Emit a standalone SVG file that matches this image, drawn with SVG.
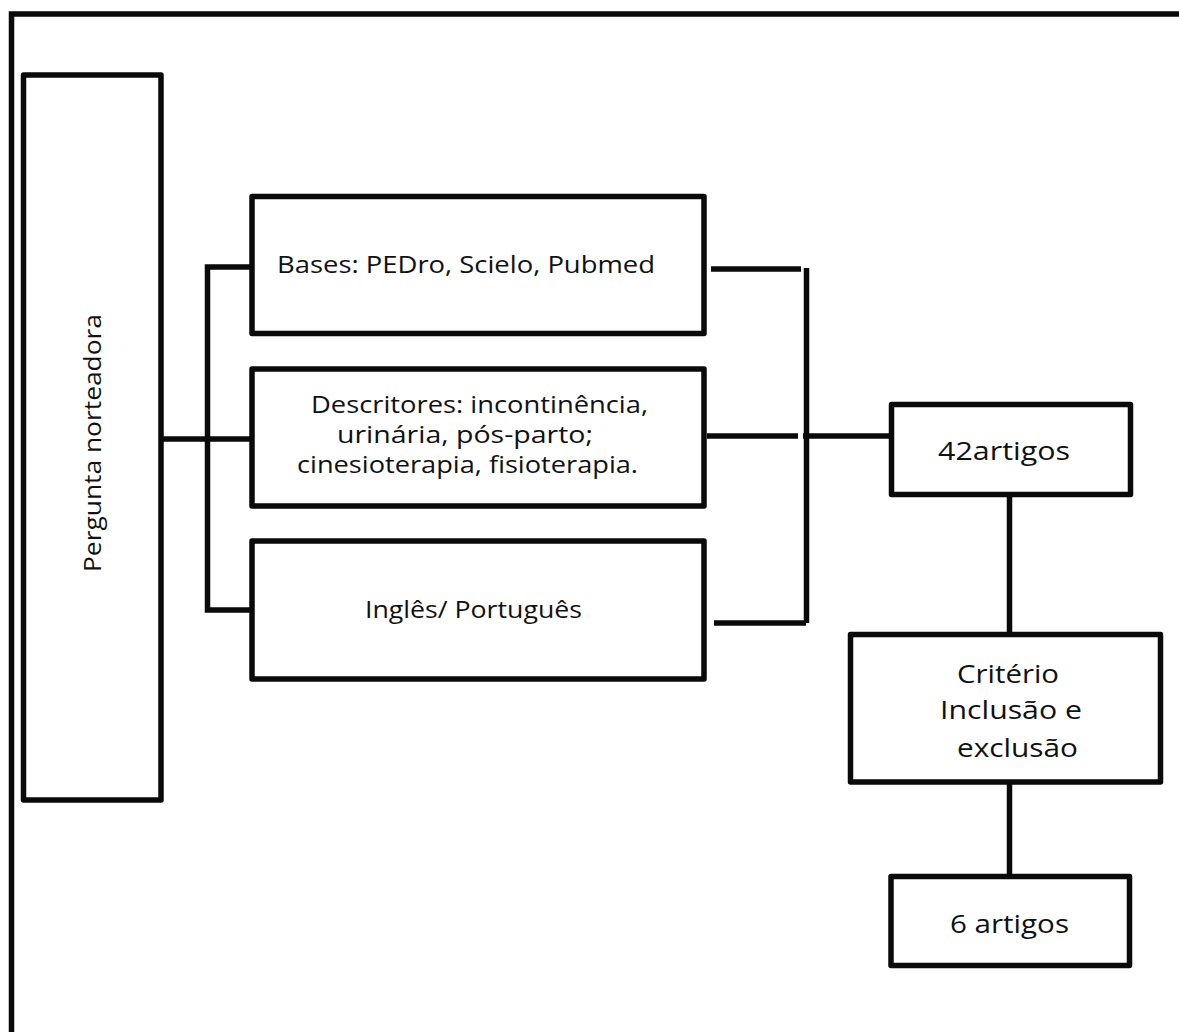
<svg xmlns="http://www.w3.org/2000/svg" width="1179" height="1032" viewBox="0 0 1179 1032">
<style>
.box{fill:#fff;stroke:#0a0a0a;stroke-width:5.5;stroke-linejoin:round}
.ln{fill:none;stroke:#0a0a0a;stroke-width:5.5}
.t{font-family:"Open Sans","Liberation Sans",Arial,sans-serif;font-size:24px;fill:#111}
.t2{font-family:"Open Sans","Liberation Sans",Arial,sans-serif;font-size:26px;fill:#111}
</style>
<rect width="1179" height="1032" fill="#fff"/>
<path class="ln" d="M11.5 1032 V14 H1179" stroke-width="5.5"/>
<g id="connectors">
<path class="ln" d="M163 439 H252"/>
<path class="ln" d="M252 267 H207.5 V610 H252"/>
<path class="ln" d="M711 269 H801" stroke-width="6"/>
<path class="ln" d="M806.5 268 V623" stroke-width="5"/>
<path class="ln" d="M714 623 H806" stroke-width="6"/>
<path class="ln" d="M707 436 H798" stroke-width="4.5"/>
<path class="ln" d="M803 436 H890" stroke-width="4.5"/>
<path class="ln" d="M1009.5 497 V632" stroke-width="5"/>
<path class="ln" d="M1009.5 784 V874" stroke-width="5"/>
</g>
<g id="pergunta">
<rect class="box" x="23.5" y="75" width="137.5" height="725"/>
<text class="t" transform="translate(101 572) rotate(-90)" textLength="258" lengthAdjust="spacingAndGlyphs">Pergunta norteadora</text>
</g>
<g id="bases">
<rect class="box" x="252" y="196.5" width="452" height="137"/>
<text class="t" x="277" y="273" textLength="378" lengthAdjust="spacingAndGlyphs">Bases: PEDro, Scielo, Pubmed</text>
</g>
<g id="descritores">
<rect class="box" x="252" y="369" width="452" height="137"/>
<text class="t" x="311" y="413" textLength="337" lengthAdjust="spacingAndGlyphs">Descritores: incontinência,</text>
<text class="t" x="337" y="443" textLength="256" lengthAdjust="spacingAndGlyphs">urinária, pós-parto;</text>
<text class="t" x="297" y="473" textLength="341" lengthAdjust="spacingAndGlyphs">cinesioterapia, fisioterapia.</text>
</g>
<g id="idioma">
<rect class="box" x="252" y="541" width="452" height="138"/>
<text class="t" x="365" y="618" textLength="217" lengthAdjust="spacingAndGlyphs">Inglês/ Português</text>
</g>
<g id="artigos42">
<rect class="box" x="891.5" y="404.5" width="239" height="90"/>
<text class="t2" x="938" y="460" textLength="132" lengthAdjust="spacingAndGlyphs">42artigos</text>
</g>
<g id="criterio">
<rect class="box" x="850.5" y="634.5" width="310" height="147.5"/>
<text class="t2" x="957" y="683" textLength="102" lengthAdjust="spacingAndGlyphs">Critério</text>
<text class="t2" x="940" y="719" textLength="142" lengthAdjust="spacingAndGlyphs">Inclusão e</text>
<text class="t2" x="957" y="757" textLength="121" lengthAdjust="spacingAndGlyphs">exclusão</text>
</g>
<g id="artigos6">
<rect class="box" x="891" y="876.5" width="238.5" height="89"/>
<text class="t2" x="950" y="933" textLength="119" lengthAdjust="spacingAndGlyphs">6 artigos</text>
</g>
</svg>
